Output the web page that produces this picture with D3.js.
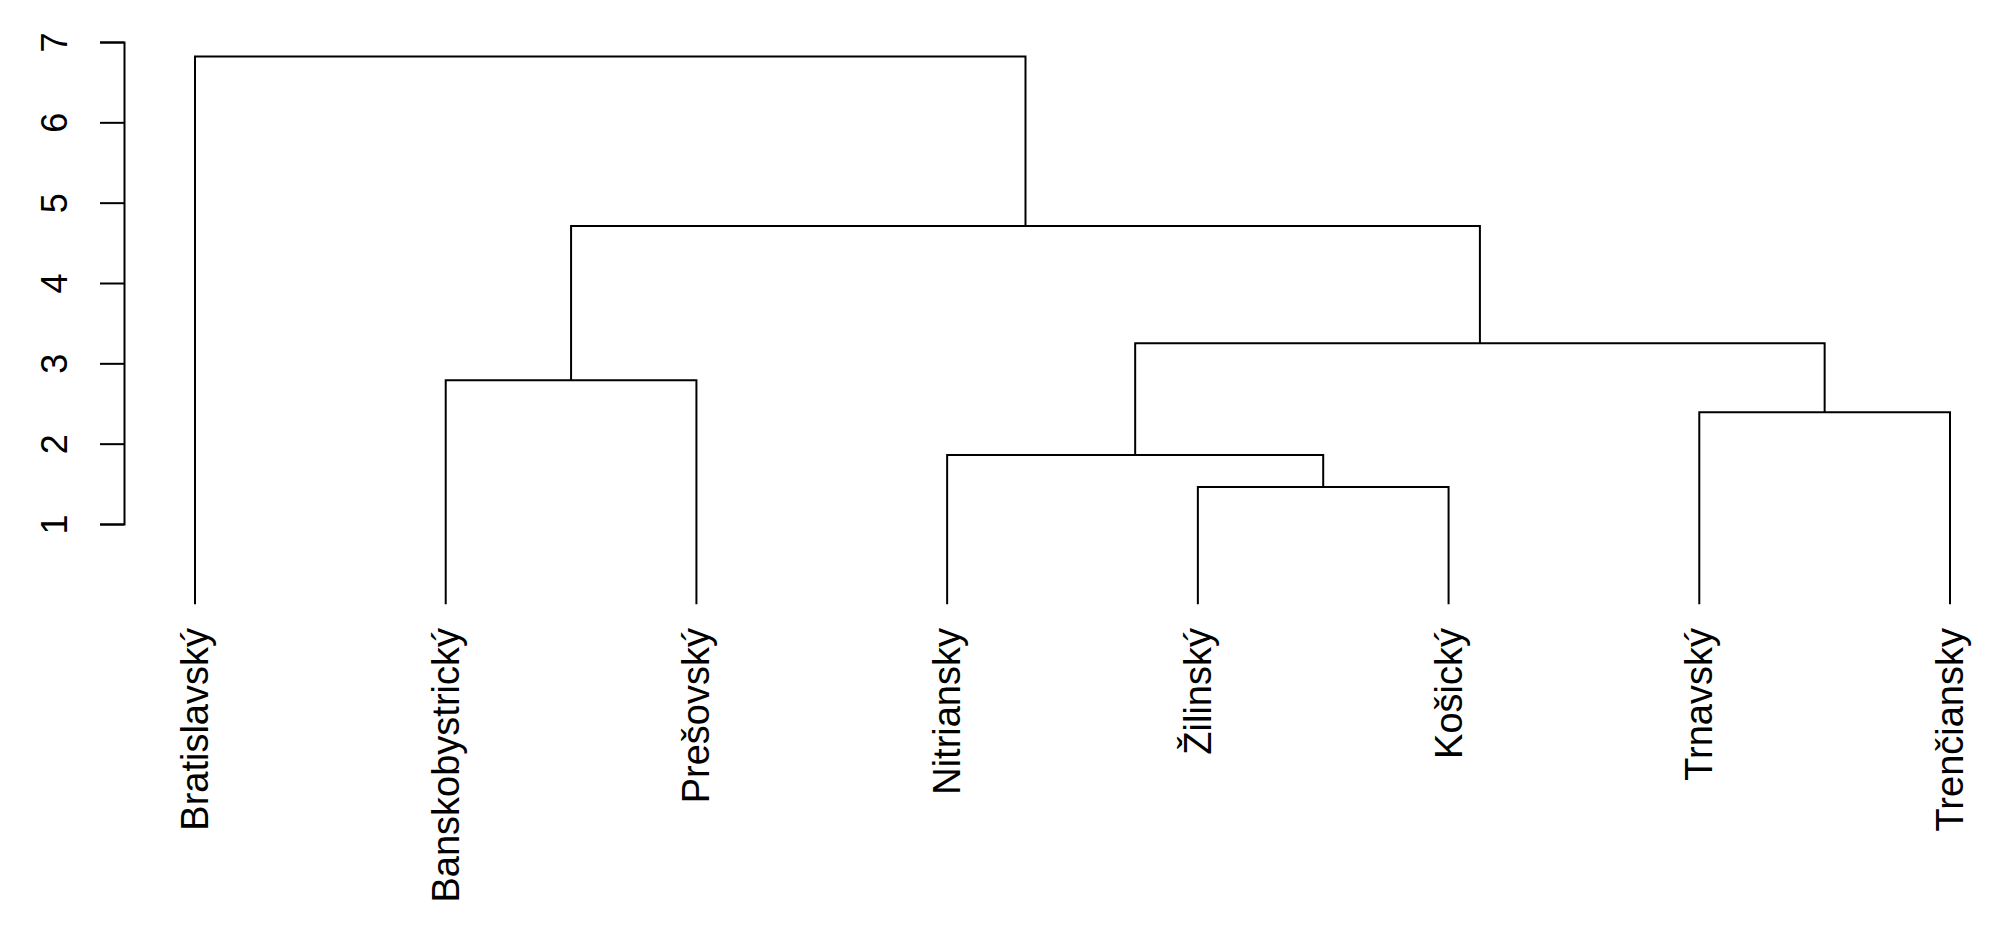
<!DOCTYPE html>
<html><head><meta charset="utf-8">
<script src="https://cdn.jsdelivr.net/npm/d3@7"></script>
<style>body{margin:0;background:#fff}</style></head>
<body><svg id="c" width="2000" height="941"></svg>
<script>
const leaves = ["Bratislavský","Banskobystrický","Prešovský","Nitriansky","Žilinský","Košický","Trnavský","Trenčiansky"];
// merges: [left, right, height]; negative = leaf index (1-based), positive = earlier merge (1-based)
const merges = [[-5,-6,1.46],[-4,1,1.86],[-7,-8,2.39],[-2,-3,2.79],[2,3,3.25],[4,5,4.71],[-1,6,6.82]];
const yTicks = [1,2,3,4,5,6,7];

const svg = d3.select("#c");
const x = d3.scalePoint().domain(leaves).range([195,1950]);
const y = d3.scaleLinear().domain([1,7]).range([524,42]);
const font = "Liberation Sans, Arial, sans-serif";

const nodes = [];
function nodeOf(i){ return i<0 ? {x:x(leaves[-i-1]), h:0} : nodes[i-1]; }
const g = svg.append("g").attr("fill","none").attr("stroke","#000").attr("stroke-width",2);
merges.forEach(([a,b,h])=>{
  const A=nodeOf(a), B=nodeOf(b);
  g.append("path").attr("d",`M${A.x},${y(A.h)}V${y(h)}H${B.x}V${y(B.h)}`);
  nodes.push({x:(A.x+B.x)/2, h:h});
});

const ax = d3.axisLeft(y).tickValues(yTicks).tickSize(24).tickFormat(d3.format("d"));
const ag = svg.append("g").attr("transform","translate(124,0)").call(ax);
ag.select(".domain").attr("stroke-width",2);
ag.selectAll(".tick line").attr("stroke-width",2);
ag.selectAll(".tick text").attr("font-family",font).attr("font-size",36).attr("fill","#000")
  .attr("x",0).attr("dy",0).attr("text-anchor","middle")
  .attr("transform","translate(-70,0) rotate(-90)").attr("dominant-baseline","central");

svg.append("g").selectAll("text").data(leaves).join("text")
  .attr("font-family",font).attr("font-size",38).attr("text-anchor","end")
  .attr("dominant-baseline","central")
  .attr("transform",d=>`translate(${x(d)},628) rotate(-90)`).text(d=>d);
</script></body></html>
